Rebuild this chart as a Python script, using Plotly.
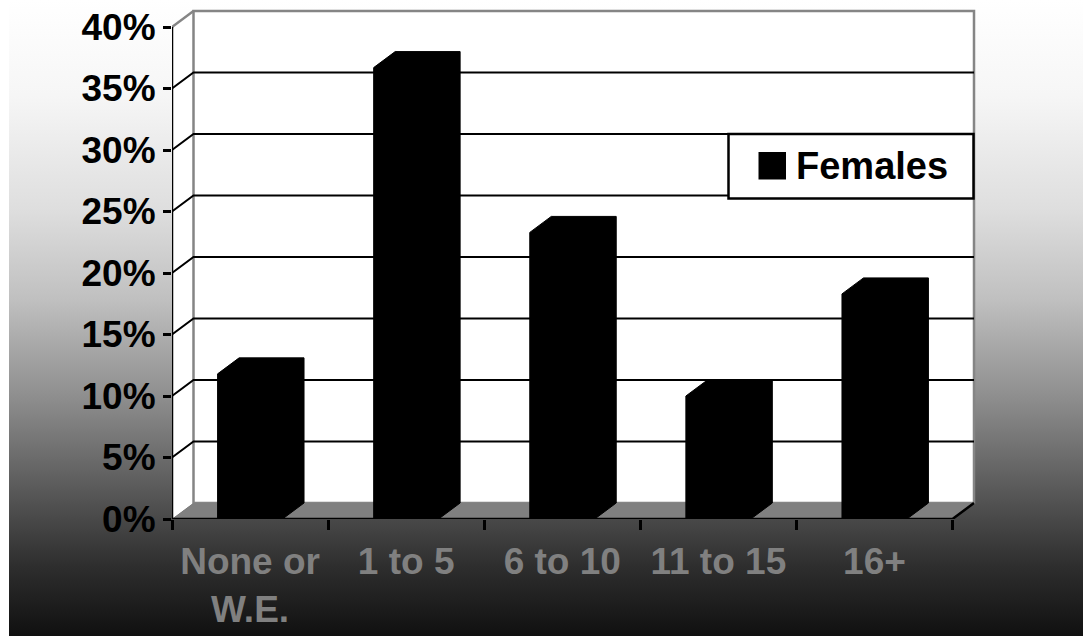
import base64
import plotly.graph_objects as go

# ---------------- data ----------------
categories = ["None or<br>W.E.", "1 to 5", "6 to 10", "11 to 15", "16+"]
females = [11.8, 36.7, 23.3, 10.0, 18.3]
y_tick_values = [0, 5, 10, 15, 20, 25, 30, 35, 40]
y_tick_labels = ["0%", "5%", "10%", "15%", "20%", "25%", "30%", "35%", "40%"]
series_name = "Females"

# ---------------- geometry (pixel layout of the pseudo-3D chart) ----------------
W, H = 1083, 637
ML, MR, MT, MB = 172, 106, 7, 118
PLOT_W = W - ML - MR
PLOT_H = H - MT - MB
CAT_PX = 156.1          # pixels per category
Y_PX = 12.3             # pixels per percentage point
DX = 21.5 / CAT_PX      # depth offset in x data units
DY = 16.0 / Y_PX        # depth offset in y data units
HALF = 0.208            # half width of a bar's front face (category units)
XMIN = -0.5
XMAX = XMIN + PLOT_W / CAT_PX
YMAX = PLOT_H / Y_PX
N = len(categories)
XL, XR = -0.5, N - 0.5
TOP = y_tick_values[-1]

FONT = "Liberation Sans, Arial, Helvetica, sans-serif"

def xd(px):
    return XMIN + (px - ML) / CAT_PX

def yd(py):
    return (H - MB - py) / Y_PX

# ---------------- bars as 3D prisms (front + top + side, all black) ----------------
bx, by = [], []
for i, v in enumerate(females):
    l, r = i - HALF, i + HALF
    bx += [l, l, l + DX, r + DX, r + DX, r, l, None]
    by += [0, v, v + DY, v + DY, DY, 0, 0, None]

fig = go.Figure()
fig.add_trace(go.Scatter(
    x=bx, y=by, mode="lines", fill="toself", fillcolor="black",
    line=dict(color="black", width=1), name=series_name,
    showlegend=False, hoverinfo="skip"))

# ---------------- walls, floor, gridlines ----------------
def path(pts):
    return "M " + " L ".join(f"{x},{y}" for x, y in pts) + " Z"

shapes = []
# side wall
shapes.append(dict(type="path", xref="x", yref="y", layer="below",
                   path=path([(XL, 0), (XL, TOP), (XL + DX, TOP + DY), (XL + DX, DY)]),
                   fillcolor="white", line=dict(width=0)))
# back wall
shapes.append(dict(type="rect", xref="x", yref="y", layer="below",
                   x0=XL + DX, x1=XR + DX, y0=DY, y1=TOP + DY,
                   fillcolor="white", line=dict(color="#858585", width=2.5)))
# floor
shapes.append(dict(type="path", xref="x", yref="y", layer="below",
                   path=path([(XL, 0), (XR, 0), (XR + DX, DY), (XL + DX, DY)]),
                   fillcolor="#808080", line=dict(width=0)))
# gridlines (side wall diagonal + back wall horizontal)
for v in y_tick_values[1:-1]:
    shapes.append(dict(type="path", xref="x", yref="y", layer="below",
                       path=f"M {XL},{v} L {XL + DX},{v + DY} L {XR + DX},{v + DY}",
                       line=dict(color="black", width=2)))
# top diagonal of side wall
shapes.append(dict(type="line", xref="x", yref="y", layer="below",
                   x0=XL, y0=TOP, x1=XL + DX, y1=TOP + DY,
                   line=dict(color="#858585", width=2.5)))
# value axis line
shapes.append(dict(type="line", xref="x", yref="y", layer="above",
                   x0=XL, y0=0, x1=XL, y1=TOP, line=dict(color="black", width=2.5)))
# category axis line + right floor edge
shapes.append(dict(type="path", xref="x", yref="y", layer="above",
                   path=f"M {XL},0 L {XR},0 L {XR + DX},{DY}",
                   line=dict(color="black", width=2.5)))

# ---------------- legend (box + swatch + text) ----------------
shapes.append(dict(type="rect", xref="x", yref="y", layer="above",
                   x0=xd(728.5), x1=xd(973.5), y0=yd(198.5), y1=yd(134),
                   fillcolor="white", line=dict(color="black", width=2.5)))
shapes.append(dict(type="rect", xref="x", yref="y", layer="above",
                   x0=xd(758.5), x1=xd(786), y0=yd(179.5), y1=yd(152),
                   fillcolor="black", line=dict(width=0)))
annotations = [dict(xref="x", yref="y", x=xd(794), y=yd(166), xanchor="left", yanchor="middle",
                    text=series_name, showarrow=False,
                    font=dict(family=FONT, size=38, color="black", weight="bold"))]

# ---------------- gradient background ----------------
stops = [(0.0, 255), (0.15, 246), (0.33, 222), (0.47, 192), (0.63, 140),
         (0.79, 82), (0.89, 46), (1.0, 16)]
stop_xml = "".join(f'<stop offset="{o}" stop-color="rgb({c},{c},{c})"/>' for o, c in stops)
svg = ('<svg xmlns="http://www.w3.org/2000/svg" width="1074" height="636" viewBox="0 0 1074 636" '
       'preserveAspectRatio="none"><defs><linearGradient id="g" x1="0" y1="0" x2="0" y2="1">'
       + stop_xml + '</linearGradient></defs><rect x="0" y="0" width="1074" height="636" fill="url(#g)"/></svg>')
img_src = "data:image/svg+xml;base64," + base64.b64encode(svg.encode()).decode()
images = [dict(source=img_src, xref="paper", yref="paper",
               x=(9 - ML) / PLOT_W, y=(H - MB) / PLOT_H,
               sizex=1074 / PLOT_W, sizey=636 / PLOT_H,
               xanchor="left", yanchor="top", sizing="stretch", layer="below")]

fig.update_layout(
    width=W, height=H, autosize=False,
    margin=dict(l=ML, r=MR, t=MT, b=MB, pad=0),
    paper_bgcolor="white", plot_bgcolor="rgba(0,0,0,0)",
    shapes=shapes, annotations=annotations, images=images,
    showlegend=False,
    xaxis=dict(range=[XMIN, XMAX], tickmode="array", tickvals=list(range(N)), ticktext=categories,
               ticks="", showgrid=False, zeroline=False, showline=False,
               ticklabelstandoff=17,
               tickfont=dict(family=FONT, size=37, color="#808080", weight="bold"),
               minor=dict(tickmode="array", tickvals=[i - 0.5 for i in range(N + 1)],
                          ticks="outside", ticklen=10, tickwidth=2.5, tickcolor="black",
                          showgrid=False),
               fixedrange=True),
    yaxis=dict(range=[0, YMAX], tickmode="array", tickvals=y_tick_values, ticktext=y_tick_labels,
               ticks="outside", ticklen=8, tickwidth=2.5, tickcolor="black",
               showgrid=False, zeroline=False, showline=False,
               tickfont=dict(family=FONT, size=37, color="black", weight="bold"),
               fixedrange=True),
)

fig.write_html("out.html")
